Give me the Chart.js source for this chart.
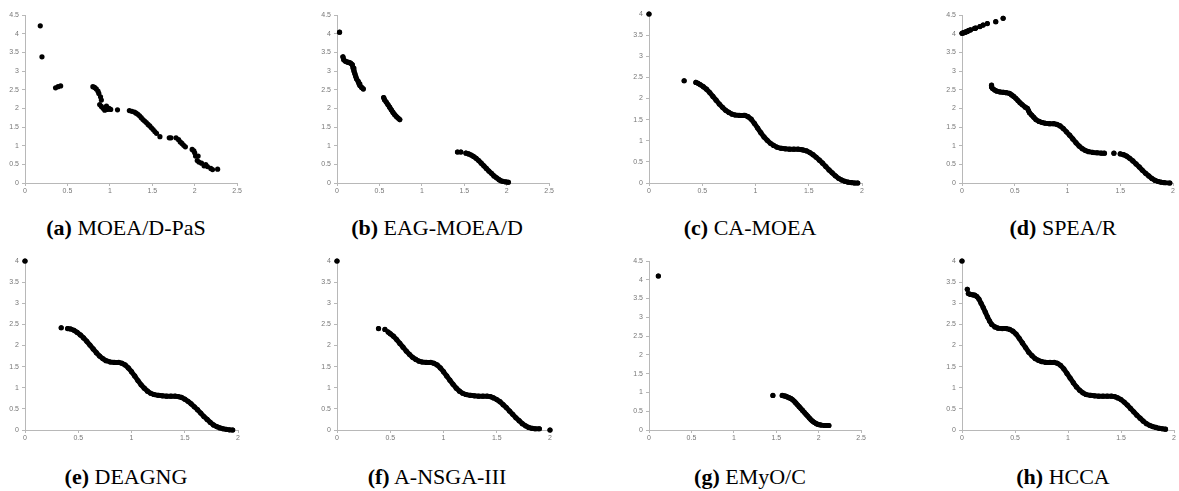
<!DOCTYPE html>
<html>
<head>
<meta charset="utf-8">
<script src="https://cdn.jsdelivr.net/npm/chart.js@4.4.1/dist/chart.umd.min.js"></script>
<style>
html, body { margin: 0; padding: 0; background: #fff; width: 1179px; height: 491px; overflow: hidden; }
.panel { position: absolute; }
.caption {
    position: absolute; width: 320px; text-align: center; white-space: nowrap;
    font-family: 'Liberation Serif', 'DejaVu Serif', serif; font-size: 22px; color: #000;
}
</style>
</head>
<body>
<script>
// titulos dos paineis
const panelTags = ['(a)', '(b)', '(c)', '(d)', '(e)', '(f)', '(g)', '(h)'];
const panelNames = ['MOEA/D-PaS', 'EAG-MOEA/D', 'CA-MOEA', 'SPEA/R', 'DEAGNG', 'A-NSGA-III', 'EMyO/C', 'HCCA'];

// limites dos eixos (ticks de 0.5 em 0.5)
const xMaxes = [2.5, 2.5, 2, 2, 2, 2, 2.5, 2];
const yMaxes = [4.5, 4.5, 4, 4.5, 4, 4, 4.5, 4];

// null = quebra entre trechos da frente
// (a) MOEA/D-PaS
const moeadPasX = [0.18, 0.2, 0.36, 0.39, 0.42, 0.8, 0.82, 0.84, 0.86, 0.87, 0.89, 0.9, 0.88, 0.9, 0.92, 0.94, 0.95, 0.96, 0.97, 0.99, 1.01, 1.09,
    1.23, 1.26, 1.29, 1.31, 1.33, 1.35, 1.37, 1.39, 1.41, 1.43, 1.45, 1.47, 1.49, 1.51, 1.53, 1.55, 1.59, 1.7, 1.72, 1.78, 1.81, 1.83, 1.85, 1.87, 1.89,
    1.97, 1.99, 2.0, 2.01, 2.04, 2.03, 2.05, 2.08, 2.11, 2.13, 2.15, 2.19, 2.21, 2.27];
const moeadPasY = [4.21, 3.38, 2.55, 2.58, 2.6, 2.58, 2.56, 2.52, 2.46, 2.4, 2.31, 2.22, 2.1, 2.05, 2.0, 1.95, 2.02, 2.06, 1.97, 2.0, 1.97, 1.96,
    1.94, 1.92, 1.9, 1.87, 1.84, 1.8, 1.75, 1.7, 1.66, 1.62, 1.57, 1.53, 1.48, 1.43, 1.38, 1.33, 1.24, 1.21, 1.21, 1.21, 1.16, 1.1, 1.06, 1.01, 0.97,
    0.9, 0.86, 0.81, 0.72, 0.72, 0.6, 0.56, 0.53, 0.46, 0.49, 0.44, 0.39, 0.36, 0.37];

// (b) EAG-MOEA/D
const eagX = [0.03, null, 0.07, 0.08, 0.1, 0.12, 0.14, 0.16, 0.18, 0.19, 0.2, 0.21, 0.22, 0.23, 0.25, 0.26, 0.27, 0.29, 0.31, null,
    0.55, 0.56, 0.58, 0.6, 0.62, 0.64, 0.66, 0.68, 0.7, 0.72, 0.74, null,
    1.42, null, 1.46, null, 1.52, 1.55, 1.58, 1.61, 1.64, 1.67, 1.7, 1.73, 1.76, 1.79, 1.82, 1.85, 1.88, 1.91, 1.93, 1.96, 1.99, 2.02];
const eagY = [4.04, null, 3.38, 3.3, 3.26, 3.24, 3.23, 3.21, 3.17, 3.08, 3.0, 2.93, 2.86, 2.79, 2.72, 2.66, 2.61, 2.56, 2.52, null,
    2.29, 2.23, 2.17, 2.1, 2.03, 1.96, 1.89, 1.83, 1.78, 1.74, 1.7, null,
    0.83, null, 0.83, null, 0.8, 0.78, 0.75, 0.71, 0.66, 0.6, 0.53, 0.46, 0.39, 0.32, 0.26, 0.19, 0.14, 0.09, 0.06, 0.04, 0.03, 0.02];

// (c) CA-MOEA
const caX = [0, null, 0.33, null, 0.44, 0.46, 0.48, 0.51, 0.54, 0.57, 0.6, 0.63, 0.66, 0.69, 0.72, 0.75, 0.78, 0.81, 0.85, 0.89, 0.9, 0.93, 0.96, 0.99,
    1.02, 1.05, 1.08, 1.11, 1.14, 1.17, 1.2, 1.24, 1.28, 1.32, 1.36, 1.4, 1.43, 1.45, 1.48, 1.51, 1.54, 1.57, 1.6, 1.63, 1.66, 1.69, 1.72,
    1.75, 1.78, 1.81, 1.84, 1.87, 1.9, 1.93, 1.96];
const caY = [4, null, 2.42, null, 2.38, 2.36, 2.33, 2.28, 2.22, 2.14, 2.05, 1.96, 1.87, 1.79, 1.72, 1.67, 1.63, 1.61, 1.6, 1.6, 1.6, 1.57, 1.51, 1.41,
    1.3, 1.19, 1.09, 1.01, 0.94, 0.89, 0.85, 0.82, 0.81, 0.8, 0.8, 0.8, 0.79, 0.78, 0.76, 0.72, 0.67, 0.61, 0.54, 0.47, 0.39, 0.31, 0.24,
    0.17, 0.11, 0.07, 0.04, 0.02, 0.01, 0, 0];

// (d) SPEA/R
const spearX = [0, 0.01, 0.02, 0.03, 0.04, 0.05, 0.06, 0.08, null, 0.12, 0.13, null, 0.17, null, 0.2, null, 0.24, null, 0.32, null, 0.39, null,
    0.28, 0.28, 0.29, 0.31, 0.33, 0.36, 0.39, 0.42, 0.45, 0.47, 0.49, 0.51, 0.53, 0.55, 0.57, 0.6, 0.62, 0.63, 0.64, 0.66, 0.68, 0.7,
    0.73, 0.76, 0.79, 0.83, 0.87, 0.9, 0.93, 0.96, 0.99, 1.02, 1.05, 1.08, 1.11, 1.14, 1.17, 1.2, 1.24, 1.28, 1.32, 1.35, null, 1.44, null,
    1.5, 1.53, 1.56, 1.59, 1.62, 1.65, 1.68, 1.71, 1.74, 1.77, 1.8, 1.83, 1.86, 1.89, 1.92, 1.97];
const spearY = [4.01, 4.02, 4.03, 4.04, 4.05, 4.06, 4.08, 4.1, null, 4.14, 4.15, null, 4.19, null, 4.23, null, 4.27, null, 4.32, null, 4.41, null,
    2.62, 2.57, 2.53, 2.49, 2.46, 2.44, 2.43, 2.42, 2.4, 2.36, 2.32, 2.27, 2.21, 2.15, 2.1, 2.03, 2.0, 1.94, 1.88, 1.82, 1.76, 1.7,
    1.65, 1.62, 1.6, 1.59, 1.59, 1.57, 1.53, 1.46, 1.37, 1.28, 1.18, 1.08, 0.99, 0.92, 0.87, 0.84, 0.82, 0.81, 0.8, 0.8, null, 0.8, null,
    0.78, 0.76, 0.72, 0.66, 0.59, 0.51, 0.43, 0.34, 0.26, 0.19, 0.12, 0.07, 0.04, 0.02, 0.01, 0];

// (e) DEAGNG
const deagngX = [0, null, 0.34, null, 0.4, 0.43, 0.46, 0.49, 0.52, 0.55, 0.58, 0.61, 0.64, 0.67, 0.7, 0.73, 0.76, 0.8, 0.84, 0.88, 0.91, 0.94, 0.97,
    1.0, 1.03, 1.06, 1.09, 1.12, 1.15, 1.18, 1.21, 1.25, 1.29, 1.33, 1.37, 1.41, 1.44, 1.47, 1.5, 1.53, 1.56, 1.59, 1.62, 1.65, 1.68,
    1.71, 1.74, 1.77, 1.8, 1.83, 1.86, 1.89, 1.92, 1.95];
const deagngY = [4, null, 2.42, null, 2.4, 2.39, 2.36, 2.31, 2.25, 2.18, 2.1, 2.01, 1.92, 1.83, 1.75, 1.69, 1.64, 1.61, 1.6, 1.6, 1.58, 1.54, 1.47,
    1.38, 1.28, 1.17, 1.07, 0.99, 0.92, 0.87, 0.84, 0.82, 0.81, 0.8, 0.8, 0.8, 0.79, 0.77, 0.73, 0.68, 0.62, 0.55, 0.48, 0.4, 0.32,
    0.25, 0.18, 0.12, 0.08, 0.05, 0.03, 0.015, 0.005, 0];

// (f) A-NSGA-III
const ansgaX = [0, null, 0.39, null, 0.45, null, 0.48, 0.5, 0.53, 0.56, 0.59, 0.62, 0.65, 0.68, 0.71, 0.74, 0.77, 0.8, 0.84, 0.88, 0.91, 0.94, 0.97,
    1.0, 1.03, 1.06, 1.09, 1.12, 1.15, 1.18, 1.21, 1.25, 1.29, 1.33, 1.37, 1.41, 1.44, 1.47, 1.5, 1.53, 1.56, 1.59, 1.62, 1.65, 1.68,
    1.71, 1.74, 1.77, 1.8, 1.83, 1.86, 1.9, null, 2.0];
const ansgaY = [4, null, 2.4, null, 2.38, null, 2.32, 2.28, 2.22, 2.14, 2.05, 1.96, 1.87, 1.79, 1.72, 1.67, 1.63, 1.61, 1.6, 1.6, 1.58, 1.54, 1.47,
    1.38, 1.28, 1.18, 1.08, 0.99, 0.92, 0.87, 0.84, 0.82, 0.81, 0.8, 0.8, 0.8, 0.79, 0.76, 0.72, 0.67, 0.6, 0.53, 0.45, 0.37, 0.29,
    0.22, 0.15, 0.1, 0.06, 0.04, 0.03, 0.03, null, 0];

// (g) EMyO/C
const emyoX = [0.11, null, 1.46, null, 1.57, 1.59, 1.61, 1.63, 1.65, 1.67, 1.69, 1.71, 1.73, 1.75, 1.77, 1.79, 1.81, 1.83, 1.85, 1.87, 1.89, 1.91,
    1.93, 1.95, 1.97, 1.99, 2.01, 2.03, 2.07, 2.1, 2.12];
const emyoY = [4.1, null, 0.92, null, 0.92, 0.91, 0.9, 0.88, 0.86, 0.84, 0.81, 0.77, 0.72, 0.67, 0.62, 0.57, 0.52, 0.47, 0.42, 0.37, 0.32, 0.27,
    0.23, 0.2, 0.17, 0.15, 0.14, 0.13, 0.12, 0.12, 0.12];

// (h) HCCA
const hccaX = [0, null, 0.05, null, 0.06, 0.08, 0.1, 0.12, 0.14, 0.16, 0.18, 0.2, 0.22, 0.24, 0.26, 0.28, 0.31, 0.34, 0.38, 0.42, 0.45, 0.48, 0.51,
    0.54, 0.57, 0.6, 0.63, 0.66, 0.69, 0.72, 0.75, 0.79, 0.83, 0.87, 0.9, 0.93, 0.96, 0.99, 1.02, 1.05, 1.08, 1.11, 1.14, 1.17, 1.21,
    1.25, 1.29, 1.33, 1.37, 1.41, 1.44, 1.47, 1.5, 1.53, 1.56, 1.59, 1.62, 1.65, 1.68, 1.71, 1.74, 1.77, 1.8, 1.83, 1.86, 1.89, 1.92];
const hccaY = [4, null, 3.33, null, 3.23, 3.21, 3.2, 3.19, 3.16, 3.1, 3.0, 2.9, 2.79, 2.68, 2.58, 2.5, 2.44, 2.41, 2.4, 2.4, 2.38, 2.34, 2.27,
    2.17, 2.06, 1.95, 1.84, 1.76, 1.69, 1.65, 1.62, 1.6, 1.6, 1.6, 1.58, 1.53, 1.45, 1.34, 1.23, 1.12, 1.02, 0.94, 0.88, 0.84, 0.82,
    0.81, 0.8, 0.8, 0.8, 0.8, 0.79, 0.76, 0.72, 0.66, 0.59, 0.51, 0.43, 0.35, 0.28, 0.21, 0.15, 0.11, 0.08, 0.06, 0.04, 0.03, 0.02];

const seriesX = [moeadPasX, eagX, caX, spearX, deagngX, ansgaX, emyoX, hccaX];
const seriesY = [moeadPasY, eagY, caY, spearY, deagngY, ansgaY, emyoY, hccaY];

// (a) fica so com marcadores; os demais ligam os pontos densos
const joinPoints = [false, true, true, true, true, true, true, true];

// posicao da area de plotagem de cada painel na pagina
const areas = [
    { left: 25, top: 15, w: 213, h: 168 },
    { left: 337, top: 15, w: 213, h: 168 },
    { left: 649, top: 14, w: 213, h: 169 },
    { left: 962, top: 15, w: 211, h: 168 },
    { left: 25, top: 261, w: 213, h: 169 },
    { left: 337, top: 261, w: 213, h: 169 },
    { left: 649, top: 261, w: 213, h: 169 },
    { left: 962, top: 261, w: 212, h: 169 }
];
const captionCenters = [126, 437, 750, 1063];
const captionTops = [215, 464];

const PAD_L = 30, PAD_T = 8, PAD_R = 5, PAD_B = 14;
const axisColor = '#b8b8b8';
const tickFont = { family: 'Liberation Sans, Arial, sans-serif', size: 7 };
const fmtTick = v => String(+v.toFixed(2));

function makePanel(i) {
    const a = areas[i];
    const box = document.createElement('div');
    box.className = 'panel';
    box.style.left = (a.left - PAD_L) + 'px';
    box.style.top = (a.top - PAD_T) + 'px';
    box.style.width = (PAD_L + a.w + PAD_R) + 'px';
    box.style.height = (PAD_T + a.h + PAD_B) + 'px';
    const cv = document.createElement('canvas');
    box.appendChild(cv);
    document.body.appendChild(box);

    const pts = seriesX[i].map((x, k) => ({ x: x, y: seriesY[i][k] }));

    new Chart(cv, {
        type: 'scatter',
        data: {
            datasets: [{
                data: pts,
                showLine: joinPoints[i],
                spanGaps: false,
                borderColor: '#000',
                borderWidth: 5,
                borderCapStyle: 'round',
                borderJoinStyle: 'round',
                pointRadius: 2.6,
                pointHoverRadius: 2.6,
                pointBackgroundColor: '#000',
                pointBorderWidth: 0,
                clip: false
            }]
        },
        options: {
            responsive: true,
            maintainAspectRatio: false,
            animation: false,
            events: [],
            layout: { padding: { left: 0, top: PAD_T, right: PAD_R, bottom: 0 } },
            plugins: { legend: { display: false }, tooltip: { enabled: false } },
            scales: {
                x: {
                    type: 'linear', min: 0, max: xMaxes[i],
                    afterFit: s => { s.height = PAD_B; },
                    ticks: { stepSize: 0.5, autoSkip: false, maxRotation: 0, padding: 1, color: '#777', font: tickFont, callback: fmtTick },
                    grid: { drawOnChartArea: false, drawTicks: true, tickLength: 3, color: axisColor },
                    border: { color: axisColor, width: 1 }
                },
                y: {
                    type: 'linear', min: 0, max: yMaxes[i],
                    afterFit: s => { s.width = PAD_L; },
                    ticks: { stepSize: 0.5, autoSkip: false, padding: 3, color: '#777', font: tickFont, callback: fmtTick },
                    grid: { drawOnChartArea: false, drawTicks: true, tickLength: 3, color: axisColor },
                    border: { color: axisColor, width: 1 }
                }
            }
        }
    });

    const cap = document.createElement('div');
    cap.className = 'caption';
    cap.style.left = (captionCenters[i % 4] - 160) + 'px';
    cap.style.top = captionTops[Math.floor(i / 4)] + 'px';
    const b = document.createElement('b');
    b.textContent = panelTags[i];
    cap.appendChild(b);
    cap.appendChild(document.createTextNode(' ' + panelNames[i]));
    document.body.appendChild(cap);
}

for (let i = 0; i < 8; i++) makePanel(i);
</script>
</body>
</html>
